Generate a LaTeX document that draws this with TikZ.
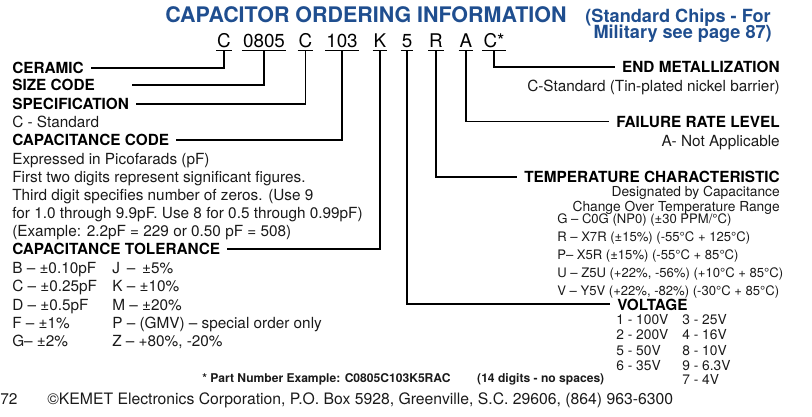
\documentclass[tikz,border=0pt]{standalone}
\usepackage{fontspec}
\setmainfont{TeX Gyre Heros}
\usetikzlibrary{positioning}

\definecolor{kemetblue}{HTML}{1F4E8F}
\definecolor{inkgray}{HTML}{1A1A1A}

\newcommand{\fsz}[1]{\fontsize{#1}{#1}\selectfont}

\tikzset{
  plain/.style={inner sep=0pt, anchor=base west, font=\fsz{10.9}, text=inkgray},
  head/.style={plain, font=\fsz{10.9}\bfseries, text=black},
  small/.style={plain, font=\fsz{9.3}},
  volt/.style={plain, font=\fsz{9.8}},
  codebox/.style={inner xsep=0.6pt, inner ysep=2.2pt, anchor=base, font=\fsz{13.4}},
  lead/.style={line width=1.4pt, shorten >=5pt}
}

\begin{document}
\begin{tikzpicture}[x=0.025cm, y=-0.025cm]
    \useasboundingbox (0,0) rectangle (812,416);

    % Titre
    \node[anchor=base west, inner sep=0pt, font=\fsz{15.25}\bfseries, text=kemetblue] (title) at (165,22) {CAPACITOR ORDERING INFORMATION};
    \node[anchor=base east, inner sep=0pt, font=\fsz{12.9}\bfseries, text=kemetblue] (note1) at (771,22) {(Standard Chips - For};
    \node[anchor=base east, inner sep=0pt, font=\fsz{12.9}\bfseries, text=kemetblue] (note2) at (772,38) {Military see page 87)};

    % Code de commande
    \foreach \nm/\x/\t in {cCer/224/C, cSize/264/0805, cSpec/305.5/C, cCap/342/103, cTol/380/K,
                           cVolt/407/5, cTemp/436/R, cFail/466/A, cEnd/494/C*}
        \node[codebox] (\nm) at (\x,47) {\t};
    \foreach \nm in {cCer, cSize, cSpec, cCap, cTol, cVolt, cTemp, cFail, cEnd}
        \draw[line width=0.7pt] (\nm.south west) -- (\nm.south east);

    % Colonne gauche
    \node[head] (ceramic) at (12,73.5) {CERAMIC};
    \node[head] (sizecode) at (12,90.5) {SIZE CODE};
    \node[head] (spec) at (12,109.5) {SPECIFICATION};
    \node[plain] (specC) at (12,127) {C - Standard};
    \node[head] (capcode) at (12,145.5) {CAPACITANCE CODE};
    \node[plain] (cap1) at (12,164) {Expressed in Picofarads (pF)};
    \node[plain] (cap2) at (12,182) {First two digits represent significant figures.};
    \node[plain] (cap3) at (12,200) {Third digit specifies number of zeros. (Use 9};
    \node[plain] (cap4) at (12,218) {for 1.0 through 9.9pF. Use 8 for 0.5 through 0.99pF)};
    \node[plain] (cap5) at (12,236) {(Example: 2.2pF = 229 or 0.50 pF = 508)};
    \node[head] (captol) at (12,254.5) {CAPACITANCE TOLERANCE};

    \node[plain] (tolB) at (12,273) {B -- ±0.10pF};
    \node[plain] (tolC) at (12,291.5) {C -- ±0.25pF};
    \node[plain] (tolD) at (12,310) {D -- ±0.5pF};
    \node[plain] (tolF) at (12,328) {F -- ±1\%};
    \node[plain] (tolG) at (12,346.5) {G-- ±2\%};
    \node[plain] (tolJ) at (112,273) {J \,--\, ±5\%};
    \node[plain] (tolK) at (112,291.5) {K -- ±10\%};
    \node[plain] (tolM) at (112,310) {M -- ±20\%};
    \node[plain] (tolP) at (112,328) {P -- (GMV) -- special order only};
    \node[plain] (tolZ) at (112,346.5) {Z -- +80\%, -20\%};

    % Colonne droite
    \node[head, anchor=base east] (endmet) at (780,72.5) {END METALLIZATION};
    \node[plain, anchor=base east] (endC) at (780,91) {C-Standard (Tin-plated nickel barrier)};
    \node[head, anchor=base east] (failrate) at (780,127) {FAILURE RATE LEVEL};
    \node[plain, anchor=base east] (failA) at (780,146) {A- Not Applicable};
    \node[head, anchor=base east] (tempchar) at (780,182.5) {TEMPERATURE CHARACTERISTIC};
    \node[plain, anchor=base east, font=\fsz{9.8}] (temp1) at (780,196) {Designated by Capacitance};
    \node[plain, anchor=base east, font=\fsz{9.8}] (temp2) at (780,211) {Change Over Temperature Range};
    \node[small] (tempG) at (557,223.5) {G -- C0G (NP0) (±30 PPM/°C)};
    \node[small] (tempR) at (557,241.5) {R -- X7R (±15\%) (-55°C + 125°C)};
    \node[small] (tempP) at (557,259.5) {P-- X5R (±15\%) (-55°C + 85°C)};
    \node[small] (tempU) at (557,277.5) {U -- Z5U (+22\%, -56\%) (+10°C + 85°C)};
    \node[small] (tempV) at (557,295.5) {V -- Y5V (+22\%, -82\%) (-30°C + 85°C)};

    \node[head] (voltage) at (617,310) {VOLTAGE};
    \node[volt] (v1) at (616,324) {1 - 100V};
    \node[volt] (v2) at (616,339.5) {2 - 200V};
    \node[volt] (v5) at (616,355) {5 - 50V};
    \node[volt] (v6) at (616,370) {6 - 35V};
    \node[volt] (v3) at (682,324) {3 - 25V};
    \node[volt] (v4) at (682,339.5) {4 - 16V};
    \node[volt] (v8) at (682,355) {8 - 10V};
    \node[volt] (v9) at (682,370) {9 - 6.3V};
    \node[volt] (v7) at (682,384.5) {7 - 4V};

    % Liaisons
    \draw[lead] (cCer.south) |- (ceramic.east);
    \draw[lead] (cSize.south) |- ([xshift=0.75cm]sizecode.east);
    \draw[lead] (cSpec.south) |- (spec.east);
    \draw[lead] (cCap.south) |- (capcode.east);
    \draw[lead] (cTol.south) |- (captol.east);
    \draw[lead] (cVolt.south) |- (voltage.west);
    \draw[lead] (cTemp.south) |- (tempchar.west);
    \draw[lead] (cFail.south) |- (failrate.west);
    \draw[lead] (cEnd.south) |- (endmet.west);

    % Pied de page
    \node[plain, font=\fsz{8.6}\bfseries] (partex) at (202,382.5) {* Part Number Example: C0805C103K5RAC\hspace{19pt}(14 digits - no spaces)};
    \node[plain, font=\fsz{11}] (pagenum) at (0,404.5) {72};
    \node[plain, font=\fsz{11.2}] (footer) at (47,404.5) {©KEMET Electronics Corporation, P.O. Box 5928, Greenville, S.C. 29606, (864) 963-6300};
\end{tikzpicture}
\end{document}
